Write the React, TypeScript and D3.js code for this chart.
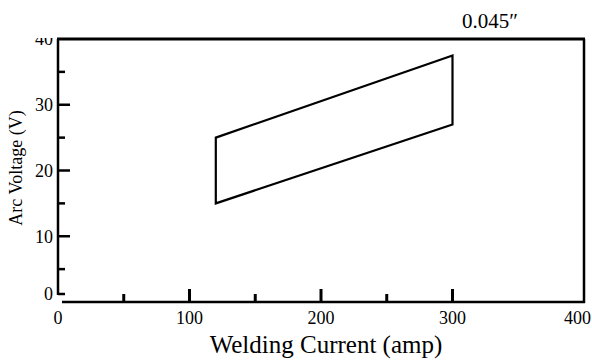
import React, { useEffect, useRef } from 'react';
import * as d3 from 'd3';

// operating window for 0.045" wire
const envelopeCurrent = [120, 120, 300, 300];
const envelopeVoltage = [15, 25, 37.5, 27];

const xMajorTicks = [0, 100, 200, 300, 400];
const xMinorTicks = [50, 150, 250];
const yMajorTicks = [0, 10, 20, 30, 40];
const yMinorTicks = [5, 15, 25, 35];

const title = '0.045″';
const xTitle = 'Welding Current (amp)';
const yTitle = 'Arc Voltage (V)';

const w = 592;
const h = 362;

export default function App() {
  const ref = useRef<SVGSVGElement>(null);

  useEffect(() => {
    const svg = d3.select(ref.current);
    svg.selectAll('*').remove();

    const x = d3.scaleLinear().domain([0, 400]).range([58, 584]);
    const y = d3.scaleLinear().domain([0, 40]).range([302, 39]);

    const font = "'Liberation Serif', 'Times New Roman', serif";

    svg.append('defs').append('clipPath').attr('id', 'ylab-clip')
      .append('rect').attr('x', 0).attr('y', y(40) - 1).attr('width', 60).attr('height', h);

    // frame: top border, right border, left axis, bottom axis
    svg.append('line')
      .attr('x1', x(0) - 1).attr('x2', x(400) + 1)
      .attr('y1', y(40)).attr('y2', y(40))
      .attr('stroke', '#000').attr('stroke-width', 3);
    svg.append('line')
      .attr('x1', x(400)).attr('x2', x(400))
      .attr('y1', y(40)).attr('y2', y(0) + 1)
      .attr('stroke', '#000').attr('stroke-width', 2.5);
    svg.append('line')
      .attr('x1', x(0)).attr('x2', x(0))
      .attr('y1', y(40)).attr('y2', y(0) - 7)
      .attr('stroke', '#000').attr('stroke-width', 2.5);
    svg.append('line')
      .attr('x1', x(0) + 4).attr('x2', x(400) + 1)
      .attr('y1', y(0)).attr('y2', y(0))
      .attr('stroke', '#000').attr('stroke-width', 2.5);

    // y ticks (inside)
    const yTick = (v: number) => (v === 0 ? y(v) - 8 : y(v));
    svg.append('g').selectAll('line.ymaj')
      .data(yMajorTicks.filter(d => d < 40))
      .join('line')
      .attr('x1', x(0)).attr('x2', d => x(0) + (d === 0 ? 7 : 12))
      .attr('y1', d => yTick(d)).attr('y2', d => yTick(d))
      .attr('stroke', '#000').attr('stroke-width', 2.5);
    svg.append('g').selectAll('line.ymin')
      .data(yMinorTicks)
      .join('line')
      .attr('x1', x(0)).attr('x2', x(0) + 7)
      .attr('y1', d => y(d)).attr('y2', d => y(d))
      .attr('stroke', '#000').attr('stroke-width', 2.5);
    svg.append('g').attr('clip-path', 'url(#ylab-clip)')
      .selectAll('text')
      .data(yMajorTicks)
      .join('text')
      .attr('x', x(0) - 5)
      .attr('y', d => yTick(d))
      .attr('dy', '0.35em')
      .attr('text-anchor', 'end')
      .attr('font-family', font)
      .attr('font-size', 18)
      .text(d => d);

    // x ticks (inside)
    svg.append('g').selectAll('line')
      .data(xMajorTicks.filter(d => d > 0 && d < 400))
      .join('line')
      .attr('x1', d => x(d)).attr('x2', d => x(d))
      .attr('y1', y(0)).attr('y2', y(0) - 13)
      .attr('stroke', '#000').attr('stroke-width', 3);
    svg.append('g').selectAll('line')
      .data(xMinorTicks)
      .join('line')
      .attr('x1', d => x(d)).attr('x2', d => x(d))
      .attr('y1', y(0)).attr('y2', y(0) - 8)
      .attr('stroke', '#000').attr('stroke-width', 3);
    svg.append('g').selectAll('text')
      .data(xMajorTicks)
      .join('text')
      .attr('x', d => (d === 400 ? w - 1 : x(d)))
      .attr('y', y(0) + 22)
      .attr('text-anchor', d => (d === 400 ? 'end' : 'middle'))
      .attr('font-family', font)
      .attr('font-size', 18)
      .text(d => d);

    // envelope
    const pts: [number, number][] = envelopeCurrent.map((c, i) => [x(c), y(envelopeVoltage[i])]);
    svg.append('path')
      .attr('d', d3.line()(pts) + 'Z')
      .attr('fill', 'none')
      .attr('stroke', '#000')
      .attr('stroke-width', 2.2)
      .attr('stroke-linejoin', 'miter');

    // titles
    svg.append('text')
      .attr('x', 462).attr('y', 28)
      .attr('font-family', font).attr('font-size', 21)
      .text(title);
    svg.append('text')
      .attr('x', 326).attr('y', 353)
      .attr('text-anchor', 'middle')
      .attr('font-family', font).attr('font-size', 25)
      .text(xTitle);
    svg.append('text')
      .attr('transform', 'translate(22,168) rotate(-90)')
      .attr('text-anchor', 'middle')
      .attr('font-family', font).attr('font-size', 18)
      .text(yTitle);
  }, []);

  return (
    <svg ref={ref} width={w} height={h}
      style={{ position: 'absolute', left: 0, top: 0, background: '#fff' }} />
  );
}
